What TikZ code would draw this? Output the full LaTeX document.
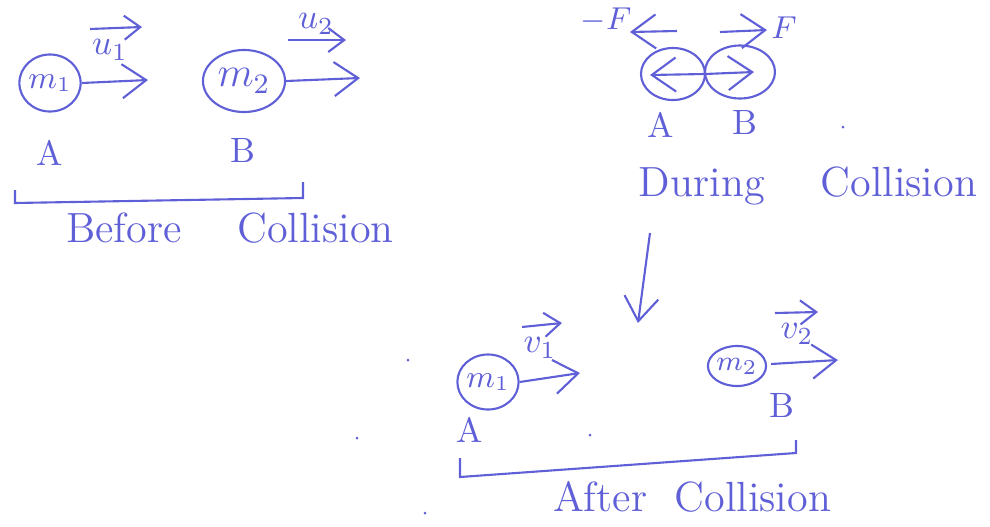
\documentclass[tikz,border=0pt]{standalone}
\usepackage{amsmath,amssymb}
\usepackage{tikz}
\usetikzlibrary{shapes.geometric, arrows.meta, positioning, calc}
\definecolor{ink}{RGB}{95,95,215}

\begin{document}
\begin{tikzpicture}[x=0.01cm, y=-0.01cm, color=ink, semithick,
    ball/.style={ellipse, draw=ink, inner sep=0pt},
    vel/.style={-{Straight Barb[length=2.4mm, width=3.4mm]}},
    vecmark/.style={-{Straight Barb[length=1.6mm, width=2.4mm]}},
    lbl/.style={text=ink, font=\normalsize}]
    \useasboundingbox (0,0) rectangle (990,527);

    % Before collision
    \node[ball, minimum width=0.6cm, minimum height=0.57cm, font=\small] (ma) at (50,83) {$m_1$};
    \node[ball, minimum width=0.82cm, minimum height=0.62cm, font=\large] (mb) at (244,81) {$m_2$};
    \coordinate (ua) at (148,80);
    \coordinate (ub) at (360,78);
    \draw[vel] (ma.east) -- (ua);
    \draw[vel] (mb.east) -- (ub);
    \node[lbl] (labua) at (110,50) {$u_1$};
    \node[lbl] (labub) at (316,24) {$u_2$};
    \draw[vecmark] ($(labua)+(-20,-21)$) -- ($(labua)+(32,-23)$);
    \draw[vecmark] ($(labub)+(-28,16)$) -- ($(labub)+(30,16)$);
    \node[lbl] (ba) at (50,153) {A};
    \node[lbl] (bb) at (243,150) {B};
    \draw (15,190) -- (15,203) -- (303,198) -- (303,182);
    \node[font=\large] (before) at (230,228) {Before \quad Collision};

    % During collision
    \node[ball, minimum width=0.64cm, minimum height=0.52cm] (ca) at (673,74) {};
    \node[ball, minimum width=0.70cm, minimum height=0.53cm] (cb) at (740,72) {};
    \coordinate (touch) at (705,74);
    \coordinate (pushl) at (650,75);
    \coordinate (pushr) at (754,72);
    \draw[vel] (touch) -- (pushl);
    \draw[vel] (touch) -- (pushr);
    \coordinate (fla) at (677,31);
    \coordinate (flb) at (630,32);
    \coordinate (fra) at (720,32);
    \coordinate (frb) at (767,30);
    \draw[vel] (fla) -- (flb);
    \draw[vel] (fra) -- (frb);
    \node[lbl, font=\small] (minusf) at (606,20) {$-F$};
    \node[lbl, font=\small] (plusf) at (784,28) {$F$};
    \node[lbl] (da) at (661,125) {A};
    \node[lbl] (db) at (745,122) {B};
    \node[font=\large] (during) at (808,186) {During \quad Collision};

    % down to after collision
    \coordinate (down) at (650,233);
    \coordinate (downend) at (638,323);
    \draw[vel] (down) -- (downend);

    % After collision
    \node[ball, minimum width=0.58cm, minimum height=0.55cm, font=\small] (pa) at (488,382) {$m_1$};
    \node[ball, minimum width=0.47cm, minimum height=0.40cm, font=\footnotesize] (pb) at (737,366) {$m_2$};
    \coordinate (va) at (580,373);
    \coordinate (vb) at (838,360);
    \draw[vel] (pa.east) -- (va);
    \draw[vel] ($(pb.east)+(4,-2)$) -- (vb);
    \node[lbl] (labva) at (540,348) {$v_1$};
    \node[lbl] (labvb) at (797,334) {$v_2$};
    \draw[vecmark] ($(labva)+(-18,-21)$) -- ($(labva)+(22,-25)$);
    \draw[vecmark] ($(labvb)+(-22,-21)$) -- ($(labvb)+(21,-22)$);
    \node[lbl] (aa) at (470,430) {A};
    \node[lbl] (ab) at (782,405) {B};
    \draw (460,458) -- (460,477) -- (796,453) -- (796,440);
    \node[font=\large] (after) at (692,497) {After \ Collision};

    % specks on the page
    \foreach \px/\py in {408/360, 357/438, 590/435, 425/513, 843/127}
        \fill (\px,\py) circle (1.5);
\end{tikzpicture}
\end{document}
